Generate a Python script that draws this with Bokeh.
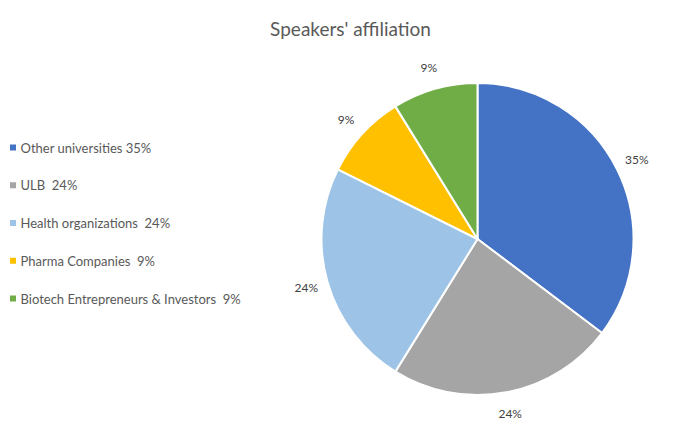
import math
import numpy as np
from bokeh.plotting import figure
from bokeh.models import Range1d, ColumnDataSource
from bokeh.core.properties import value
from bokeh.embed import file_html
from bokeh.resources import INLINE

# ---- data ----
categories = ["Other universities", "ULB", "Health organizations", "Pharma Companies",
              "Biotech Entrepreneurs & Investors"]
counts = [12, 8, 8, 3, 3]
legend_labels = ["Other universities 35%", "ULB\u00a0 24%", "Health organizations\u00a0 24%",
                 "Pharma Companies\u00a0 9%", "Biotech Entrepreneurs & Investors\u00a0 9%"]
pct_labels = ["35%", "24%", "24%", "9%", "9%"]
colors = ["#4472C4", "#A5A5A5", "#9DC3E6", "#FFC000", "#70AD47"]

# ---- layout constants (page pixels) ----
W, H = 684, 425
PAGE_H = 441
OFF = 0  # page offset of figure as observed
cx, cy_page = 477, 238.5
R = 156
R_LABEL = 178

def py(page_y):
    return PAGE_H - page_y

vals = np.array(counts, dtype=float)
frac = vals / vals.sum()
cum = np.concatenate([[0], np.cumsum(frac)])
start_cw = cum[:-1]
end_cw = cum[1:]
a_from = math.pi / 2 - 2 * math.pi * end_cw
a_to = math.pi / 2 - 2 * math.pi * start_cw
mid = math.pi / 2 - 2 * math.pi * (start_cw + end_cw) / 2

cy = py(cy_page)
src = ColumnDataSource(dict(start=a_from, end=a_to, color=colors, cat=categories))

p = figure(width=W, height=H, output_backend="svg", toolbar_location=None,
           x_range=Range1d(OFF, OFF + W), y_range=Range1d(PAGE_H - OFF - H, PAGE_H - OFF),
           min_border=0)
p.axis.visible = False
p.grid.visible = False
p.outline_line_color = None
p.background_fill_color = "white"

p.wedge(x=cx, y=cy, radius=R, start_angle="start", end_angle="end", direction="anticlock",
        fill_color="color", line_color="white", line_width=2, source=src)

# percentage labels
lx = cx + R_LABEL * np.cos(mid)
ly = cy + R_LABEL * np.sin(mid)
p.text(x=lx, y=ly, text=pct_labels, text_align="center", text_baseline="middle",
       text_font=value("Lato"), text_font_size="12px", text_color="#404040")

# title
p.text(x=[350], y=[py(28)], text=["Speakers' affiliation"], text_align="center",
       text_baseline="middle", text_font=value("Lato"), text_font_size="19px",
       text_color="#595959")

# legend
rows = np.arange(len(categories))
ly_leg = py(147 + 37.75 * rows)
p.scatter(x=[12.5] * len(rows), y=ly_leg, marker="square", size=6, fill_color=colors,
          line_color=None)
p.text(x=[20] * len(rows), y=ly_leg, text=legend_labels, text_align="left",
       text_baseline="middle", text_font=value("Lato"), text_font_size="13px",
       text_color="#595959")

open("out.html", "w").write(file_html(p, INLINE))
